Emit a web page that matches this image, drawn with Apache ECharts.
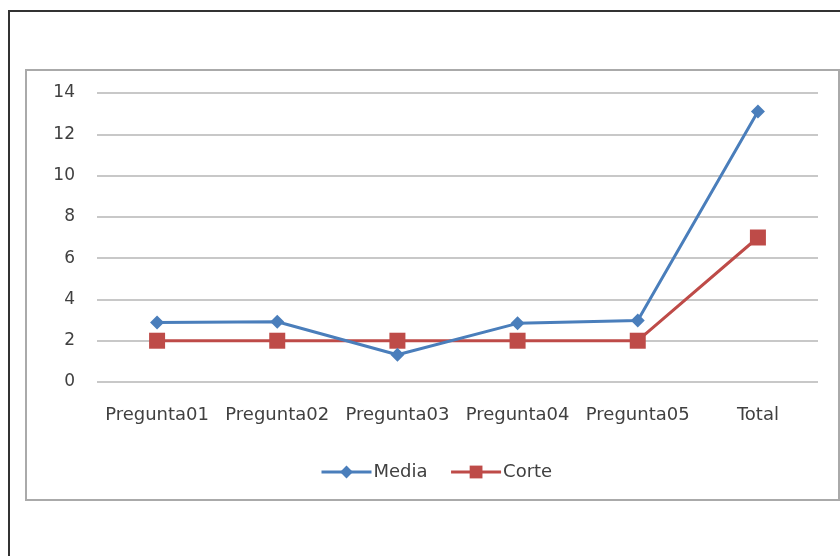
<!DOCTYPE html>
<html><head><meta charset="utf-8">
<script src="https://cdn.jsdelivr.net/npm/echarts@6/dist/echarts.min.js"></script>
<style>html,body{margin:0;padding:0;background:#fff}#c{width:840px;height:556px}</style>
</head><body><div id="c"></div>
<script>
const categories = ['Pregunta01','Pregunta02','Pregunta03','Pregunta04','Pregunta05','Total'];
const media = [2.88, 2.92, 1.32, 2.84, 2.98, 13.1];
const corte = [2, 2, 2, 2, 2, 7];
const yTicks = [0, 2, 4, 6, 8, 10, 12, 14];

const chart = echarts.init(document.getElementById('c'), null, {renderer:'canvas'});
const font = "'DejaVu Sans', sans-serif";
chart.setOption({
  animation: false,
  backgroundColor: '#fff',
  graphic: [
    {type:'rect', shape:{x:9, y:11, width:900, height:600}, style:{fill:'none', stroke:'#333', lineWidth:2}, silent:true},
    {type:'rect', shape:{x:26, y:70, width:813, height:430}, style:{fill:'none', stroke:'#aaa', lineWidth:2}, silent:true}
  ],
  grid: {left: 97, right: 22, top: 93, bottom: 174},
  legend: {
    data: ['Media','Corte'],
    left: 315, top: 458,
    itemWidth: 50, itemHeight: 16, itemGap: 22,
    lineStyle: {width: 3},
    textStyle: {fontFamily: font, fontSize: 18, color: '#404040', padding: [0,0,0,-3]}
  },
  xAxis: {
    type: 'category', data: categories, boundaryGap: true,
    axisLine: {show:false}, axisTick: {show:false},
    axisLabel: {fontFamily: font, fontSize: 18, color: '#404040', margin: 24, interval: 0}
  },
  yAxis: {
    type: 'value', min: yTicks[0], max: yTicks[yTicks.length-1], interval: 2,
    axisLine: {show:false}, axisTick: {show:false},
    axisLabel: {fontFamily: font, fontSize: 17, color: '#404040', margin: 22},
    splitLine: {lineStyle: {color: '#c8c8c8', width: 2}}
  },
  series: [
    {name:'Media', type:'line', data: media, symbol:'diamond', symbolSize: 14,
     itemStyle:{color:'#4a7ebb'}, lineStyle:{color:'#4a7ebb', width:3}, z:3},
    {name:'Corte', type:'line', data: corte, symbol:'rect', symbolSize: 16,
     itemStyle:{color:'#be4b48'}, lineStyle:{color:'#be4b48', width:3}, z:2}
  ]
});
</script></body></html>
